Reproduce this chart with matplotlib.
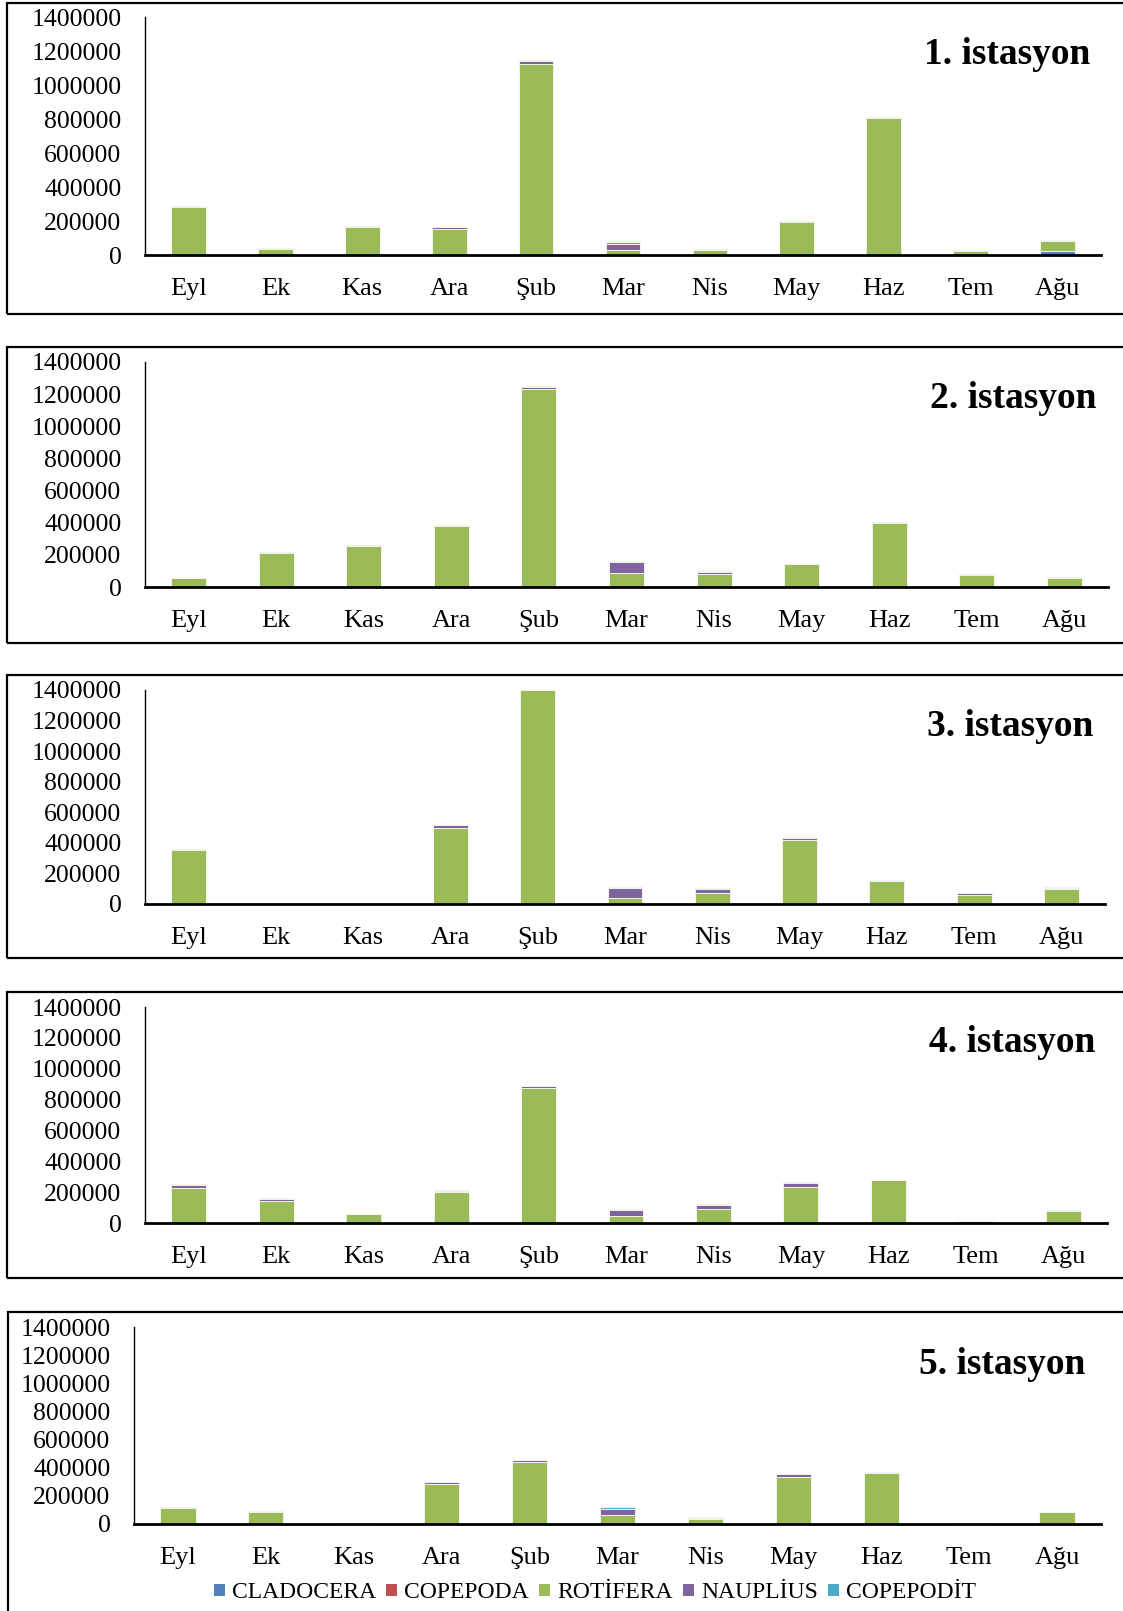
import matplotlib
matplotlib.use("Agg")
import matplotlib.pyplot as plt
from matplotlib.patches import Rectangle, Patch
import numpy as np

plt.rcParams['font.family'] = ['Liberation Serif', 'DejaVu Serif']

months = ["Eyl", "Ek", "Kas", "Ara", "Şub", "Mar", "Nis", "May", "Haz", "Tem", "Ağu"]
taxa = ["CLADOCERA", "COPEPODA", "ROTİFERA", "NAUPLİUS", "COPEPODİT"]
taxa_colors = ["#4F81BD", "#C0504D", "#9BBB59", "#8064A2", "#4BACC6"]
yticks = [0, 200000, 400000, 600000, 800000, 1000000, 1200000, 1400000]

# 1. istasyon
clad1 = [0, 0, 0, 0, 0, 0, 0, 0, 0, 2000, 22000]
cope1 = [0, 0, 0, 0, 0, 0, 0, 0, 0, 0, 0]
rot1 = [284000, 37000, 165000, 152000, 1125000, 32000, 30000, 195000, 808000, 22000, 60000]
naup1 = [4000, 1000, 4000, 10000, 16000, 34000, 4000, 1000, 2000, 3000, 1000]
copd1 = [1000, 1000, 1000, 1000, 6000, 8000, 3000, 2000, 1000, 2000, 3000]

# 2. istasyon
clad2 = [0, 0, 0, 0, 0, 0, 0, 0, 0, 0, 0]
cope2 = [0, 0, 0, 0, 0, 0, 0, 0, 0, 0, 0]
rot2 = [55000, 211000, 255000, 380000, 1235000, 86000, 82000, 142000, 397000, 74000, 59000]
naup2 = [2000, 3000, 3000, 3000, 8000, 71000, 14000, 3000, 4000, 6000, 3000]
copd2 = [1000, 1000, 1000, 2000, 6000, 4000, 3000, 1000, 2000, 2000, 1000]

# 3. istasyon
clad3 = [0, 0, 0, 0, 0, 0, 0, 0, 0, 0, 0]
cope3 = [0, 0, 0, 0, 0, 0, 0, 0, 0, 0, 0]
rot3 = [352000, 0, 0, 500000, 1400000, 37000, 75000, 419000, 152000, 57000, 96000]
naup3 = [6000, 0, 0, 15000, 0, 66000, 22000, 13000, 2000, 13000, 8000]
copd3 = [3000, 0, 0, 5000, 0, 8000, 5000, 5000, 2000, 3000, 4000]

# 4. istasyon
clad4 = [0, 0, 0, 0, 0, 0, 0, 0, 0, 0, 5000]
cope4 = [0, 0, 0, 0, 0, 0, 0, 0, 0, 0, 0]
rot4 = [228000, 143000, 56000, 200000, 872000, 46000, 93000, 236000, 276000, 11000, 76000]
naup4 = [20000, 11000, 1000, 8000, 13000, 37000, 24000, 24000, 1000, 1000, 1000]
copd4 = [5000, 6000, 1000, 4000, 6000, 8000, 4000, 4000, 3000, 1000, 4000]

# 5. istasyon
clad5 = [0, 0, 0, 0, 0, 0, 0, 0, 0, 0, 5000]
cope5 = [0, 0, 0, 0, 0, 0, 0, 0, 0, 0, 0]
rot5 = [111000, 85000, 8000, 284000, 439000, 67000, 33000, 332000, 362000, 4000, 78000]
naup5 = [7000, 5000, 1000, 13000, 14000, 43000, 12000, 22000, 3000, 1000, 1000]
copd5 = [1000, 5000, 1000, 1000, 5000, 8000, 5000, 4000, 4000, 0, 1000]

stations = [
    ("1. istasyon", [clad1, cope1, rot1, naup1, copd1]),
    ("2. istasyon", [clad2, cope2, rot2, naup2, copd2]),
    ("3. istasyon", [clad3, cope3, rot3, naup3, copd3]),
    ("4. istasyon", [clad4, cope4, rot4, naup4, copd4]),
    ("5. istasyon", [clad5, cope5, rot5, naup5, copd5]),
]

W, H = 1123, 1611
fig = plt.figure(figsize=(W / 100, H / 100), dpi=100)

# panel frames (top, bottom, left) and plot areas (left, right, top, zero) in pixels
frames = [(3, 314, 7), (347, 643, 7), (675, 958, 7), (992, 1278, 7), (1312, 1625, 8)]
areas = [(145, 1101, 17, 255), (145, 1108, 362, 587), (145, 1105, 690, 904),
         (145, 1107, 1007, 1223), (134, 1101, 1327, 1524)]
titles_pos = [(1090, 54), (1096, 399), (1093, 726), (1095, 1043), (1085, 1365)]

for (ft, fb, fl) in frames:
    fig.patches.append(Rectangle((fl / W, 1 - fb / H), (W + 20 - fl) / W, (fb - ft) / H,
                                 transform=fig.transFigure, fill=False,
                                 edgecolor="black", linewidth=1.6, zorder=0))

x = np.arange(len(months))
for (title, series), (l, r, t, z), (tx, ty) in zip(stations, areas, titles_pos):
    ax = fig.add_axes([l / W, 1 - z / H, (r - l) / W, (z - t) / H])
    bottom = np.zeros(len(months))
    for vals, col in zip(series, taxa_colors):
        v = np.array(vals, dtype=float)
        ax.bar(x, v, width=0.4, bottom=bottom, color=col,
               edgecolor="#f2f5ec", linewidth=0.7, zorder=2)
        bottom += v
    ax.set_xlim(-0.5, len(months) - 0.5)
    ax.set_ylim(0, 1400000)
    ax.set_yticks(yticks)
    ax.set_yticklabels([str(v) for v in yticks], fontsize=18.5)
    ax.set_xticks(x)
    ax.set_xticklabels(months, fontsize=19)
    ax.tick_params(axis="both", length=0)
    ax.tick_params(axis="x", pad=16.5)
    ax.tick_params(axis="y", pad=17)
    for s in ("top", "right"):
        ax.spines[s].set_visible(False)
    ax.spines["left"].set_linewidth(1.0)
    ax.spines["bottom"].set_linewidth(2.0)
    ax.spines["bottom"].set_zorder(3)
    ax.patch.set_alpha(0)
    fig.text(tx / W, 1 - ty / H, title, ha="right", va="center",
             fontsize=27, fontweight="bold")

handles = [Patch(facecolor=c, edgecolor="none") for c in taxa_colors]
fig.legend(handles, taxa, loc="center", bbox_to_anchor=(595 / W, 1 - 1593 / H),
           ncol=5, frameon=False, fontsize=17, handlelength=0.45, handleheight=0.45,
           handletextpad=0.3, columnspacing=0.45, borderpad=0)

fig.savefig("out.png", dpi=100)
